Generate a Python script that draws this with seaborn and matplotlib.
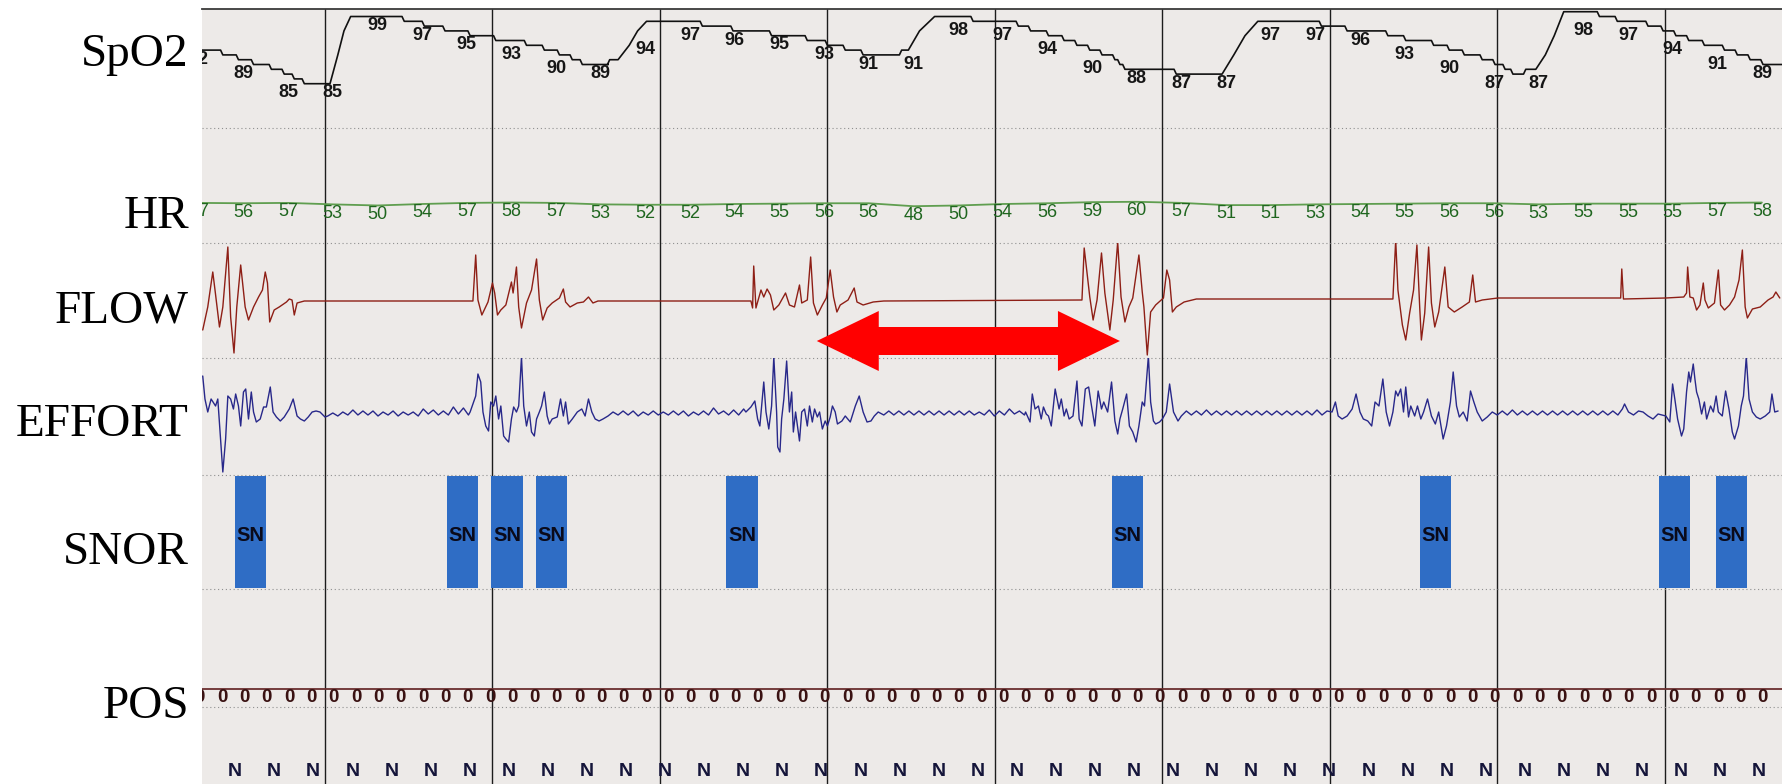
import numpy as np
import pandas as pd
import matplotlib
matplotlib.use("Agg")
import matplotlib.pyplot as plt
from matplotlib.patches import Polygon
import seaborn as sns

# ---------------- data (time in s, 30 s epochs) ----------------
EPOCH_LINES = [30, 60, 90, 120, 150, 180, 210, 240, 270]
T_MIN, T_MAX = 7.97, 291.0

# printed values, one every 8 s
LABEL_T0, LABEL_DT = 7.4, 8
SPO2_LABELS = [92, 89, 85, 85, 99, 97, 95, 93, 90, 89, 94, 97, 96, 95, 93, 91, 91, 98,
               97, 94, 90, 88, 87, 87, 97, 97, 96, 93, 90, 87, 87, 98, 97, 94, 91, 89]
HR_LABELS = [57, 56, 57, 53, 50, 54, 57, 58, 57, 53, 52, 52, 54, 55, 56, 56, 48, 50,
             54, 56, 59, 60, 57, 51, 51, 53, 54, 55, 56, 56, 53, 55, 55, 55, 57, 58]

# SpO2 trace: (time, level) knots; 1 % changes are steps, bigger ones are ramps
SPO2_KNOTS = [
    (7.6, 92), (11.7, 91), (14.5, 90), (17.2, 89), (20.4, 88), (22.7, 87), (24.5, 86),
    (26.3, 85), (30.9, 85), (32.3, 91), (33.4, 96), (34.6, 99), (44.2, 98), (47.8, 97),
    (51.5, 96), (56.0, 95), (60.6, 94), (66.1, 93), (69.3, 92), (72.0, 91), (74.3, 90),
    (76.1, 89), (80.7, 89), (81.0, 90), (82.5, 90), (84.5, 93), (86.0, 96), (87.6, 98),
    (97.6, 97), (103.1, 96), (110.0, 95), (116.4, 94), (120.0, 93), (123.2, 92),
    (126.4, 91), (132.8, 91), (133.3, 92), (134.5, 92), (136.5, 96), (139.2, 99),
    (146.1, 98), (154.2, 97), (156.4, 96), (159.6, 95), (162.4, 94), (164.7, 93),
    (167.0, 92), (169.2, 91), (171.5, 90), (172.4, 89), (173.3, 88), (182.5, 87),
    (190.7, 87), (192.8, 91), (194.8, 95), (197.1, 98), (208.5, 97), (213.1, 96),
    (220.4, 95), (223.6, 94), (228.6, 93), (231.4, 92), (234.1, 91), (237.3, 90),
    (239.6, 89), (241.4, 88), (242.8, 87), (245.1, 88), (246.9, 88), (248.6, 91),
    (250.2, 95), (251.9, 100), (258.3, 99), (261.5, 98), (267.0, 97), (269.7, 96),
    (272.0, 95), (274.3, 94), (277.1, 93), (280.7, 92), (283.0, 91), (285.3, 90),
    (287.6, 89), (291.5, 89),
]

# airflow (baseline = 0)
FLOW = [
    (8.1, -29), (9.0, -6), (9.9, 29), (10.3, 11), (11.1, -26), (11.7, -6), (12.6, 54),
    (13.1, -16), (13.7, -52), (14.2, -6), (14.9, 36), (15.7, -6), (16.3, -19), (17.2, -6),
    (18.1, 4), (18.8, 11), (19.3, 29), (19.7, 18), (20.1, -21), (20.9, -9), (21.8, -6),
    (23.1, -1), (23.6, 2), (24.1, 1), (24.5, -14), (25.0, -2), (26.3, 0),
    (56.5, 0), (57.0, 46), (57.4, 1), (58.1, -14), (59.2, -1), (60.0, 18), (60.4, 8),
    (60.9, -14), (61.5, -9), (62.4, -4), (63.4, 19), (63.7, 8), (64.3, 34), (64.7, -6),
    (65.2, -27), (66.1, -2), (67.0, 11), (67.9, 42), (68.4, 1), (69.0, -19), (69.8, -7),
    (70.7, -2), (72.0, 3), (72.7, 12), (73.1, -1), (73.9, -6), (75.2, -2), (76.3, -1),
    (77.2, 4), (78.0, -2), (78.9, 0),
    (106.3, 0), (106.6, -7), (106.8, 35), (107.2, -7), (108.1, 11), (108.6, 4),
    (109.2, 12), (109.8, 6), (110.4, -9), (111.3, -4), (112.5, 8), (113.2, -4),
    (114.1, -6), (115.0, 16), (115.4, -2), (116.4, 1), (117.0, 44), (117.5, -2),
    (118.2, -14), (119.1, -4), (119.8, 3), (120.5, 31), (121.1, 4), (121.7, -11),
    (122.3, -4), (123.7, 1), (124.8, 13), (125.3, -1), (126.4, -4), (128.2, -1), (130.1, 0),
    (165.6, 1), (166.0, 53), (167.0, 4), (167.6, -19), (168.3, 1), (169.1, 48), (169.7, 8),
    (170.6, -29), (171.2, 1), (172.0, 59), (172.6, 4), (173.3, -21), (174.0, -6),
    (174.7, 3), (175.8, 46), (176.4, 9), (176.7, -6), (177.3, -54), (177.9, -11),
    (178.8, -4), (180.2, 3), (180.8, 31), (181.3, 21), (181.8, -11), (182.5, -6),
    (183.9, -1), (186.1, 2), (188.4, 2),
    (221.3, 2), (221.8, 61), (222.2, 11), (223.0, -24), (223.6, -39), (224.3, -12),
    (225.0, 11), (225.6, 56), (226.1, -6), (226.4, -39), (227.0, -12), (227.7, 54),
    (228.2, -2), (228.8, -26), (229.5, -11), (230.6, 34), (231.2, -6), (232.3, -11),
    (233.7, -6), (235.0, -1), (235.6, 26), (236.1, -1), (237.3, 1), (238.7, 2), (240.1, 3),
    (262.1, 3), (262.3, 32), (262.6, 2),
    (270.2, 3), (273.4, 4), (273.9, 8), (274.1, 34), (274.5, 4), (275.1, 3), (275.7, -9),
    (276.3, -4), (276.9, 18), (277.2, 1), (277.8, -7), (278.9, -2), (279.6, 31),
    (280.0, -4), (280.7, -9), (281.6, -4), (282.5, 4), (283.3, 21), (283.9, 51),
    (284.4, -6), (284.8, -17), (285.7, -8), (287.1, -6), (288.5, 1), (289.4, 4),
    (289.9, 9), (290.6, 3),
]

# respiratory effort (baseline = 0)
EFFORT = [
    (8.1, 38), (8.5, 15), (9.0, 2), (9.6, 15), (10.4, 8), (10.8, 15), (11.3, -25),
    (11.7, -58), (12.2, -25), (12.6, 18), (13.1, 15), (13.6, 5), (14.0, 20), (14.5, 8),
    (14.9, -12), (15.4, 22), (15.8, 25), (16.3, -5), (16.8, 22), (17.2, 2), (17.7, -8),
    (18.4, -5), (19.0, 7), (19.5, 7), (20.2, 27), (20.7, 2), (21.3, -3), (22.0, -7),
    (22.7, -3), (23.6, 5), (24.3, 15), (25.0, -2), (25.6, -5), (26.3, -7), (27.0, -3),
    (27.7, 2), (28.4, 3), (29.1, 2), (30.0, -3), (30.5, -2),
    (31.4, 1), (32.3, -2), (33.2, 2), (34.1, -1), (35.0, 4), (35.9, -1), (36.8, 3),
    (37.7, -1), (38.6, 3), (39.5, -2), (40.4, 2), (41.3, -1), (42.2, 3), (43.1, -2),
    (44.0, 2), (44.9, -1), (45.8, 2), (46.7, -2), (47.6, 5), (48.5, 0), (49.4, 4),
    (50.3, -1), (51.2, 3), (52.1, -1), (53.0, 7), (53.9, 0), (54.8, 6), (55.7, -1),
    (56.0, 2), (57.0, 18), (57.4, 40), (57.9, 32), (58.3, 2), (58.8, -12), (59.3, -17),
    (59.7, 12), (60.2, 8), (60.6, 18), (61.1, -5), (61.5, 8), (62.0, -22), (62.4, -25),
    (62.9, -28), (63.4, -5), (63.8, 7), (64.3, 2), (64.7, 8), (65.2, 57), (65.6, 8),
    (66.1, -12), (66.6, 2), (67.0, -18), (67.5, -22), (67.9, -5), (68.4, 2), (68.8, 8),
    (69.3, 22), (69.8, -2), (70.2, -10), (70.7, -5), (71.6, -3), (72.2, 15), (72.7, -2),
    (73.1, 12), (73.6, -10), (74.3, -5), (75.2, 2), (76.0, 5), (76.6, -2), (77.2, 15),
    (77.8, 2), (78.4, -5), (79.1, -7), (79.8, -5), (80.7, -2), (81.6, 2),
    (82.5, -1), (83.4, 3), (84.3, -1), (85.2, 3), (86.1, -2), (87.0, 2), (87.9, -1),
    (88.8, 3), (89.7, -1), (90.6, 2), (91.5, -1), (92.4, 3), (93.3, -1), (94.2, 3),
    (95.1, -2), (96.0, 2), (96.9, -1), (97.8, 3), (98.7, -1), (99.6, 6), (100.5, 0),
    (101.4, 3), (102.3, -1), (103.2, 4), (104.1, -1), (105.0, 5),
    (105.4, 2), (106.3, 7), (107.0, 13), (107.5, -5), (107.9, -12), (108.6, 32),
    (109.0, 2), (109.5, -15), (110.0, 8), (110.4, 57), (110.9, 2), (111.1, -33),
    (111.5, -38), (111.8, -5), (112.2, 15), (112.7, 53), (113.2, 2), (113.6, 22),
    (113.9, -18), (114.3, 2), (115.0, -27), (115.4, 2), (115.9, 5), (116.4, -12),
    (116.8, 8), (117.3, -8), (117.7, 5), (118.2, -3), (118.6, 2), (119.1, -15),
    (119.6, -7), (120.0, -12), (120.5, -3), (120.9, 8), (121.4, 2), (121.8, -10),
    (122.6, -7), (123.2, -2), (124.1, -8), (125.0, 8), (125.7, 18), (126.4, 2),
    (127.1, -8), (127.8, -7), (128.4, -2), (129.1, 2),
    (130.1, -1), (131.0, 3), (131.9, -1), (132.8, 3), (133.7, -1), (134.6, 3), (135.5, -1),
    (136.4, 3), (137.3, -1), (138.2, 3), (139.1, -1), (140.0, 3), (140.9, -1), (141.8, 3),
    (142.7, -1), (143.6, 3), (144.5, -1), (145.4, 3), (146.3, -1), (147.2, 2), (148.1, -1),
    (149.0, 4), (149.9, -2), (150.8, 3), (151.7, -1), (152.6, 5), (153.5, 0), (154.4, 3),
    (155.3, -1),
    (155.5, 2), (156.3, -8), (156.7, 20), (157.2, 5), (157.8, 8), (158.3, -5), (158.7, 7),
    (159.2, 0), (159.6, -2), (160.1, -12), (160.8, 25), (161.5, 5), (161.9, 15),
    (162.4, -2), (162.8, 5), (163.3, -5), (164.0, -2), (164.7, 33), (165.1, -5),
    (165.6, -12), (166.2, 25), (166.8, 27), (167.2, 12), (167.9, -12), (168.5, 23),
    (169.1, 5), (169.5, 12), (170.2, 2), (170.9, 32), (171.5, -7), (172.0, -20),
    (172.4, -5), (172.9, 5), (173.6, 20), (174.1, -12), (174.7, -18), (175.3, -28),
    (175.8, -12), (176.4, 12), (176.8, 8), (177.5, 58), (177.9, 12), (178.4, -7),
    (178.8, -10), (179.5, -8), (180.0, -5), (180.7, 2), (181.3, 30), (182.0, 2),
    (182.8, -7), (183.4, -2),
    (184.3, 3), (185.2, -1), (186.1, 3), (187.0, -1), (187.9, 4), (188.8, -1), (189.7, 3),
    (190.6, -1), (191.5, 3), (192.4, -1), (193.3, 3), (194.2, -1), (195.1, 3), (196.0, -1),
    (196.9, 3), (197.8, -1), (198.7, 3), (199.6, -1), (200.5, 3), (201.4, -1), (202.3, 3),
    (203.2, -1), (204.1, 3), (205.0, -1), (205.9, 3), (206.8, -1), (207.7, 4), (208.6, -1),
    (209.5, 3),
    (210.4, 2), (211.0, 12), (211.5, -2), (212.2, -5), (213.1, -2), (214.0, 5), (214.7, 20),
    (215.4, 2), (216.0, -5), (216.8, -7), (217.5, -12), (218.1, 12), (218.8, 8),
    (219.5, 35), (220.1, 2), (220.7, -12), (221.3, 2), (221.8, 23), (222.2, 18),
    (222.7, 25), (223.2, 2), (223.6, 27), (224.1, -3), (224.5, 8), (225.2, -2), (225.7, 8),
    (226.3, -5), (226.8, 2), (227.5, 15), (228.2, -2), (228.9, -10), (229.5, 2),
    (230.3, -25), (230.9, -12), (231.6, 12), (232.1, 42), (232.7, 8), (233.2, -3),
    (233.9, 2), (234.6, -7), (235.2, 23), (235.8, 12), (236.4, 2), (237.3, -7),
    (238.2, -3), (239.1, 2),
    (240.0, -1), (240.9, 3), (241.8, -1), (242.7, 4), (243.6, -1), (244.5, 3), (245.4, -1),
    (246.3, 3), (247.2, -1), (248.1, 3), (249.0, -1), (249.9, 3), (250.8, -1), (251.7, 3),
    (252.6, -1), (253.5, 3), (254.4, -1), (255.3, 3), (256.2, -1), (257.1, 3), (258.0, -1),
    (258.9, 3), (259.8, -1), (260.7, 3), (261.6, -1), (262.4, 5), (262.8, 10), (263.5, 2),
    (264.4, -1), (265.3, 3),
    (266.1, 2), (267.0, -2), (267.9, -5), (268.8, 0), (270.2, -2), (270.9, -8), (271.4, 30),
    (271.8, 15), (272.3, -5), (273.0, -22), (273.4, -15), (273.9, 22), (274.3, 42),
    (274.6, 32), (275.1, 50), (275.4, 35), (275.7, 22), (276.1, 15), (276.6, 0),
    (277.1, 12), (277.5, -5), (278.2, 8), (278.7, 2), (279.2, 18), (279.6, 2), (280.3, -2),
    (280.9, 23), (281.5, 5), (282.1, -18), (282.5, -25), (283.2, -12), (283.7, 8),
    (284.1, 18), (284.6, 57), (285.1, 15), (285.7, 2), (286.4, -3), (287.1, -5),
    (288.0, -2), (288.8, 2), (289.2, 20), (289.7, 2), (290.3, 3),
]

# snoring events: start time (s), each lasting SNORE_LEN s
SNORE_START = [13.9, 51.9, 59.8, 67.8, 101.9, 170.9, 226.1, 269.0, 279.1]
SNORE_LEN = 5.6

# body position code every 4 s, sleep stage every 7 s
POS_T0, POS_DT, POS_CODE = 7.55, 4, "0"
STAGE_T0, STAGE_DT, STAGE_CODE = 13.9, 7, "N"

# the red double arrow (apnoea span)
APNEA = (118.1, 172.4)

CHANNELS = ["SpO2", "HR", "FLOW", "EFFORT", "SNOR", "POS"]

# ---------------- style ----------------
PAPER = "#edeae8"
GRID = "#1c1c1c"
sns.set_theme(style="white")
plt.rcParams["font.family"] = ["Liberation Sans", "DejaVu Sans"]

W, H = 1782, 784
X0 = 202  # left edge of the chart paper (px)
fig = plt.figure(figsize=(W / 100, H / 100), dpi=100)
fig.patch.set_facecolor("white")


def band(top, bottom):
    ax = fig.add_axes([X0 / W, 1 - bottom / H, 1 - X0 / W, (bottom - top) / H])
    ax.set_xlim(T_MIN, T_MAX)
    ax.set_axis_off()
    return ax


# paper with epoch lines and dotted channel separators (y in px)
bg = fig.add_axes([X0 / W, 0, 1 - X0 / W, (H - 9) / H])
bg.set_facecolor(PAPER)
bg.set_xlim(T_MIN, T_MAX)
bg.set_ylim(H, 9)
bg.set_xticks([])
bg.set_yticks([])
for s in ["left", "right", "bottom"]:
    bg.spines[s].set_visible(False)
bg.spines["top"].set_color("#3a3a3a")
bg.spines["top"].set_linewidth(1.3)
for t in EPOCH_LINES:
    bg.axvline(t, color=GRID, lw=1.0, zorder=1)
for y in [128, 243, 358, 475, 589, 707]:
    bg.axhline(y, color="#8f8f8f", lw=0.8, ls=(0, (1, 2.5)), zorder=1)

label_t = LABEL_T0 + LABEL_DT * np.arange(len(SPO2_LABELS))

# SpO2
ax = band(0, 128)
ax.set_ylim(75.77, 102.44)
xs, ys = [SPO2_KNOTS[0][0]], [SPO2_KNOTS[0][1]]
for (t0, v0), (t1, v1) in zip(SPO2_KNOTS[:-1], SPO2_KNOTS[1:]):
    if abs(v1 - v0) <= 1:
        xs += [t1 - 0.4, t1]
        ys += [v0, v1]
    else:
        xs.append(t1)
        ys.append(v1)
sns.lineplot(x=xs, y=ys, ax=ax, sort=False, estimator=None, color="#111111", lw=1.2)
for t, v in zip(label_t, SPO2_LABELS):
    ax.annotate(str(v), (t, v), xytext=(0, -6.6), textcoords="offset points",
                ha="center", va="center", fontsize=13, fontweight="bold",
                color="#161616", annotation_clip=False, clip_on=True)

# HR
ax = band(128, 243)
ax.set_ylim(-51.4, 259.4)
sns.lineplot(x=label_t, y=HR_LABELS, ax=ax, sort=False, estimator=None,
             color="#5f9e4f", lw=1.3)
for t, v in zip(label_t, HR_LABELS):
    ax.annotate(str(v), (t, v), xytext=(0, -6.4), textcoords="offset points",
                ha="center", va="center", fontsize=13, color="#1f661f",
                annotation_clip=False, clip_on=True)

# FLOW
flow = pd.DataFrame(FLOW, columns=["t", "v"])
ax = band(243, 358)
ax.set_ylim(-57, 58)
sns.lineplot(data=flow, x="t", y="v", ax=ax, sort=False, estimator=None,
             color="#8e1f16", lw=1.0)

# EFFORT
effort = pd.DataFrame(EFFORT, columns=["t", "v"])
ax = band(358, 475)
ax.set_ylim(-61, 56)
sns.lineplot(data=effort, x="t", y="v", ax=ax, sort=False, estimator=None,
             color="#28288a", lw=1.0)

# SNOR
ax = band(475, 589)
ax.set_ylim(0, 1)
ax.bar(SNORE_START, 0.975, width=SNORE_LEN, bottom=0.012, align="edge",
       color="#2f6dc5", lw=0)
for t in SNORE_START:
    ax.text(t + SNORE_LEN / 2, 0.47, "SN", ha="center", va="center",
            fontsize=14.5, fontweight="bold", color="#0a0a1a")

# POS + stage
ax = band(589, H)
ax.set_ylim(-(H - 688.5), 688.5 - 589)
ax.axhline(0, color="#6b2f2f", lw=1.3)
for t in np.arange(POS_T0, T_MAX, POS_DT):
    ax.text(t, -9.5, POS_CODE, ha="center", va="center", fontsize=13.5,
            fontweight="bold", color="#3a1212", clip_on=True)
for t in np.arange(STAGE_T0, T_MAX, STAGE_DT):
    ax.text(t, -83.5, STAGE_CODE, ha="center", va="center", fontsize=14,
            fontweight="bold", color="#15153a", clip_on=True)

# red double arrow over the apnoea (x in s, y in px)
a0, a1 = APNEA
hl = 11.1
arrow = [(a0, 341), (a0 + hl, 311), (a0 + hl, 327), (a1 - hl, 327), (a1 - hl, 311),
         (a1, 341), (a1 - hl, 371), (a1 - hl, 355), (a0 + hl, 355), (a0 + hl, 371)]
bg.add_patch(Polygon(arrow, closed=True, color="#ff0000", lw=0, zorder=5))

# channel names
for name, yc in zip(CHANNELS, [51, 213, 307, 420, 549, 702]):
    fig.text(189 / W, 1 - (yc + 15.5) / H, name, ha="right", va="baseline",
             fontsize=34, family="Liberation Serif", color="black")

fig.savefig("out.png", dpi=100, facecolor="white")
